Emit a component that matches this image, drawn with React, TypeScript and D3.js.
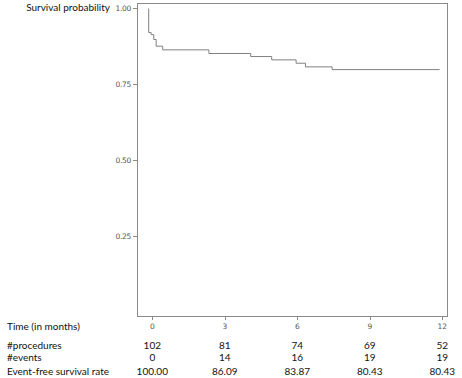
import React from "react";
import * as d3 from "d3";

// Kaplan-Meier step points: time (months), survival probability
const kmTimes = [-0.17, -0.07, 0.04, 0.14, 0.41, 2.32, 4.05, 4.92, 5.93, 6.32, 7.42, 11.87];
const kmSurv = [0.921, 0.914, 0.898, 0.876, 0.864, 0.852, 0.842, 0.831, 0.82, 0.808, 0.799, 0.799];
const startTime = -0.17;

const xTicks = [0, 3, 6, 9, 12];
const yTicks = [0.25, 0.5, 0.75, 1.0];

const rowLabels = ["#procedures", "#events", "Event-free survival rate"];
const procedures = ["102", "81", "74", "69", "52"];
const events = ["0", "14", "16", "19", "19"];
const rates = ["100.00", "86.09", "83.87", "80.43", "80.43"];

export default function App() {
  const W = 462, H = 378;
  const box = { left: 137, right: 447, top: 3, bottom: 316 };
  const x = d3.scaleLinear().domain([0, 12]).range([152.3, 442.3]);
  const y = d3.scaleLinear().domain([0, 1]).range([312, 8]);

  const pts: [number, number][] = [[startTime, 1.0]];
  kmTimes.forEach((t, i) => pts.push([t, kmSurv[i]]));
  const line = d3
    .line<[number, number]>()
    .x((d) => x(d[0]))
    .y((d) => y(d[1]))
    .curve(d3.curveStepAfter);

  const labelFont = "Lato, 'Open Sans', sans-serif";
  const tickFont = "'DejaVu Sans', sans-serif";
  const rows = [procedures, events, rates];
  const rowY = [345, 357.5, 371];
  const fs = 10;

  return (
    <svg width={W} height={H} style={{ position: "absolute", left: 0, top: 0, background: "#fff" }}>
      <rect x={box.left + 0.5} y={box.top + 0.5} width={box.right - box.left} height={box.bottom - box.top}
        fill="none" stroke="#8a8a8a" strokeWidth={1} />
      <path d={line(pts) || ""} fill="none" stroke="#808080" strokeWidth={1} transform="translate(0.5,0.5)" />
      {yTicks.map((v) => (
        <g key={v}>
          <line x1={box.left - 4} x2={box.left} y1={Math.round(y(v)) + 0.5} y2={Math.round(y(v)) + 0.5} stroke="#8a8a8a" />
          <text x={box.left - 6} y={y(v)} dy="0.35em" textAnchor="end" fontFamily={tickFont} fontSize={7.5} fill="#555"
            letterSpacing={-0.3}>
            {v.toFixed(2)}
          </text>
        </g>
      ))}
      {xTicks.map((v) => (
        <g key={v}>
          <line x1={Math.round(x(v)) + 0.5} x2={Math.round(x(v)) + 0.5} y1={box.bottom} y2={box.bottom + 4} stroke="#8a8a8a" />
          <text x={x(v)} y={326} dy="0.35em" textAnchor="middle" fontFamily={tickFont} fontSize={7.5} fill="#555">
            {v}
          </text>
        </g>
      ))}
      <text x={110} y={7} dy="0.35em" textAnchor="end" fontFamily={labelFont} fontSize={fs} fill="#111">
        Survival probability
      </text>
      <text x={7} y={326} dy="0.35em" fontFamily={labelFont} fontSize={fs} fill="#111">
        Time (in months)
      </text>
      {rowLabels.map((lab, i) => (
        <text key={lab} x={7} y={rowY[i]} dy="0.35em" fontFamily={labelFont} fontSize={fs} fill="#111">
          {lab}
        </text>
      ))}
      {rows.map((r, i) =>
        r.map((val, j) => (
          <text key={i + "-" + j} x={x(xTicks[j])} y={rowY[i]} dy="0.35em" textAnchor="middle"
            fontFamily={labelFont} fontSize={fs} fill="#111">
            {val}
          </text>
        ))
      )}
    </svg>
  );
}
